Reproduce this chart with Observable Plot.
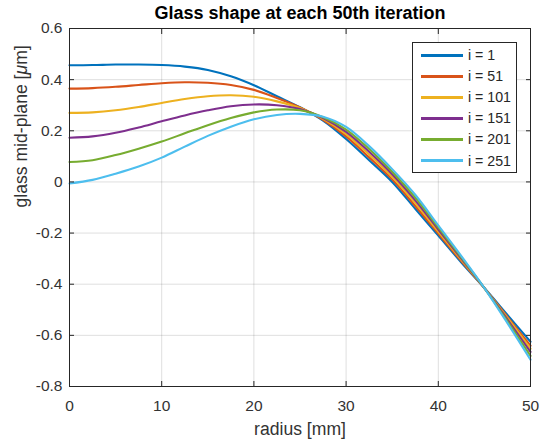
<!DOCTYPE html>
<html>
<head>
<meta charset="utf-8">
<script src="https://cdn.jsdelivr.net/npm/d3@7"></script>
<script src="https://cdn.jsdelivr.net/npm/@observablehq/plot@0.6"></script>
<style>
  html, body { margin: 0; padding: 0; background: #fff; }
  #wrap { position: relative; width: 542px; height: 444px; font-family: "Liberation Sans", Arial, sans-serif; }
  #legend { position: absolute; left: 412px; top: 42px; width: 105px; height: 131px; box-sizing: border-box;
            border: 1px solid #262626; background: #fff; }
  .row { position: absolute; left: 0; width: 100%; height: 20px; }
  .sw { position: absolute; left: 8px; width: 42px; height: 3px; top: 8.5px; }
  .lab { position: absolute; left: 55px; top: 0; line-height: 20px; font-size: 14.2px; color: #262626; white-space: nowrap; }
</style>
</head>
<body>
<div id="wrap"></div>
<script>
// ---- data ----
const radius = [0, 2.5, 5, 7.5, 10, 12.5, 15, 17.5, 20, 22.5, 25, 27.5, 30, 32.5, 35, 37.5, 40, 42.5, 45, 47.5, 50];
const seriesNames = ["i = 1", "i = 51", "i = 101", "i = 151", "i = 201", "i = 251"];
const seriesColors = ["#0072BD", "#D95319", "#EDB120", "#7E2F8E", "#77AC30", "#4DBEEE"];
const i1   = [0.456, 0.457, 0.459, 0.459, 0.457, 0.451, 0.438, 0.413, 0.378, 0.335, 0.292, 0.240, 0.168, 0.085, 0.000, -0.105, -0.210, -0.315, -0.415, -0.520, -0.625];
const i51  = [0.365, 0.367, 0.372, 0.379, 0.386, 0.390, 0.388, 0.379, 0.360, 0.328, 0.291, 0.243, 0.178, 0.096, 0.010, -0.094, -0.202, -0.310, -0.415, -0.528, -0.640];
const i101 = [0.270, 0.272, 0.280, 0.293, 0.309, 0.324, 0.335, 0.339, 0.333, 0.315, 0.289, 0.247, 0.187, 0.107, 0.020, -0.083, -0.194, -0.305, -0.415, -0.532, -0.652];
const i151 = [0.173, 0.178, 0.192, 0.213, 0.237, 0.260, 0.280, 0.296, 0.303, 0.300, 0.285, 0.250, 0.196, 0.118, 0.030, -0.072, -0.186, -0.300, -0.415, -0.538, -0.665];
const i201 = [0.078, 0.085, 0.105, 0.130, 0.158, 0.190, 0.222, 0.250, 0.272, 0.283, 0.280, 0.253, 0.205, 0.129, 0.040, -0.061, -0.178, -0.295, -0.415, -0.545, -0.680];
const i251 = [-0.006, 0.008, 0.032, 0.060, 0.095, 0.138, 0.180, 0.216, 0.245, 0.262, 0.266, 0.255, 0.215, 0.140, 0.050, -0.050, -0.170, -0.290, -0.415, -0.552, -0.695];
const xTicks = [0, 10, 20, 30, 40, 50];
const yTicks = [-0.8, -0.6, -0.4, -0.2, 0, 0.2, 0.4, 0.6];
const yTickLabels = ["-0.8", "-0.6", "-0.4", "-0.2", "0", "0.2", "0.4", "0.6"];
const titleText = "Glass shape at each 50th iteration";
const xLabel = "radius [mm]";
const yLabel = "glass mid-plane [μm]";

const allSeries = [i1, i51, i101, i151, i201, i251];
const rows = seriesNames.flatMap((name, k) => radius.map((r, j) => ({r, v: allSeries[k][j], s: name})));

const axisColor = "#262626";
const textColor = "#333333";

const chart = Plot.plot({
  width: 542, height: 444,
  marginLeft: 69, marginRight: 12, marginTop: 28, marginBottom: 58,
  style: {fontFamily: '"Liberation Sans", Arial, sans-serif', fontSize: "15.5px", color: textColor, background: "#fff"},
  x: {domain: [0, 50]},
  y: {domain: [-0.8, 0.6]},
  color: {domain: seriesNames, range: seriesColors},
  marks: [
    Plot.gridX(xTicks, {stroke: axisColor, strokeOpacity: 0.15}),
    Plot.gridY(yTicks, {stroke: axisColor, strokeOpacity: 0.15}),
    Plot.line(rows, {x: "r", y: "v", z: "s", stroke: "s", strokeWidth: 2.1, curve: "catmull-rom"}),
    Plot.frame({stroke: axisColor}),
    Plot.axisX(xTicks, {anchor: "bottom", tickSize: 0, tickPadding: 13, label: null, fill: textColor}),
    Plot.axisY(yTicks, {anchor: "left", tickSize: 0, tickPadding: 7, label: null, fill: textColor,
                        tickFormat: d => yTickLabels[yTicks.indexOf(d)]}),
    Plot.axisX(xTicks, {anchor: "bottom", tickSize: -5, tickFormat: () => "", label: null, stroke: axisColor}),
    Plot.axisX(xTicks, {anchor: "top", tickSize: -5, tickFormat: () => "", label: null, stroke: axisColor}),
    Plot.axisY(yTicks, {anchor: "left", tickSize: -5, tickFormat: () => "", label: null, stroke: axisColor}),
    Plot.axisY(yTicks, {anchor: "right", tickSize: -5, tickFormat: () => "", label: null, stroke: axisColor}),
    Plot.text([titleText], {text: d => d, frameAnchor: "top", dy: -15, lineAnchor: "middle",
                            fontWeight: "bold", fontSize: 18, fill: "#000"}),
    Plot.text([xLabel], {text: d => d, frameAnchor: "bottom", dy: 43, lineAnchor: "middle", fontSize: 17.6, fill: textColor}),
    Plot.text([yLabel], {text: d => d, frameAnchor: "left", dx: -48, rotate: -90, lineAnchor: "middle", fontSize: 17.6, fill: textColor})
  ]
});

chart.querySelectorAll("text").forEach(t => {
  if (t.textContent === yLabel) {
    t.innerHTML = 'glass mid-plane [<tspan font-style="italic">μ</tspan>m]';
  }
});

const wrap = document.getElementById("wrap");
wrap.appendChild(chart);

const legend = document.createElement("div");
legend.id = "legend";
seriesNames.forEach((name, k) => {
  const row = document.createElement("div");
  row.className = "row";
  row.style.top = (2 + k * 21.1) + "px";
  const sw = document.createElement("div");
  sw.className = "sw";
  sw.style.background = seriesColors[k];
  const lab = document.createElement("div");
  lab.className = "lab";
  lab.textContent = name;
  row.appendChild(sw);
  row.appendChild(lab);
  legend.appendChild(row);
});
wrap.appendChild(legend);
</script>
</body>
</html>
